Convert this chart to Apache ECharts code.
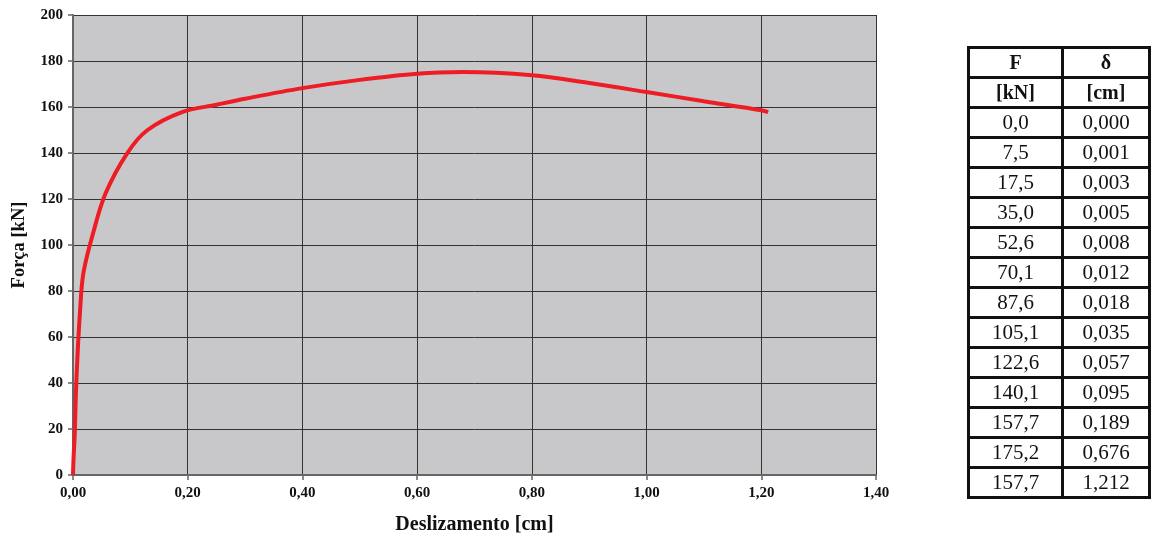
<!DOCTYPE html>
<html><head><meta charset="utf-8">
<script src="https://cdn.jsdelivr.net/npm/echarts@6/dist/echarts.min.js"></script>
<style>html,body{margin:0;padding:0;background:#fff}#c{width:1151px;height:537px}</style>
</head><body><div id="c"></div>
<script>
// Curve (x = slip in cm, y = force in kN)
var curveX = [0, 0.001, 0.003, 0.005, 0.008, 0.012, 0.018, 0.035, 0.057, 0.095, 0.13, 0.189, 0.25, 0.30, 0.40, 0.50, 0.60, 0.68, 0.80, 0.90, 1.00, 1.10, 1.20, 1.212];
var curveF = [0, 7.5, 17.5, 35.0, 52.6, 70.1, 87.6, 105.1, 122.6, 140.1, 150.0, 157.7, 161.0, 163.6, 168.2, 171.8, 174.5, 175.2, 173.8, 170.4, 166.5, 162.5, 158.6, 157.8];
// Table values
var tableHeader1 = ['F', 'δ'];
var tableHeader2 = ['[kN]', '[cm]'];
var tableF = ['0,0','7,5','17,5','35,0','52,6','70,1','87,6','105,1','122,6','140,1','157,7','175,2','157,7'];
var tableD = ['0,000','0,001','0,003','0,005','0,008','0,012','0,018','0,035','0,057','0,095','0,189','0,676','1,212'];

var serif = '"Liberation Serif","DejaVu Serif",serif';
var data = curveX.map(function(x, i){ return [x, curveF[i]]; });

// table graphics
var tx = 967, ty = 46, tw = 184, rowH = 30, bw = 3;
var colSplit = 1061;
var rows = [tableHeader1, tableHeader2];
for (var i = 0; i < tableF.length; i++) rows.push([tableF[i], tableD[i]]);
var th = rows.length * rowH + bw;
var g = [{type:'rect', shape:{x:tx, y:ty, width:tw, height:th}, style:{fill:'#111'}}];
var c1x = tx + bw, c1w = colSplit - c1x, c2x = colSplit + bw, c2w = tx + tw - bw - c2x;
rows.forEach(function(r, k){
  var y0 = ty + bw + k * rowH, h = rowH - bw;
  g.push({type:'rect', shape:{x:c1x, y:y0, width:c1w, height:h}, style:{fill:'#fff'}});
  g.push({type:'rect', shape:{x:c2x, y:y0, width:c2w, height:h}, style:{fill:'#fff'}});
  var bold = k < 2;
  var fs = bold ? 20 : 21;
  [[r[0], c1x + c1w/2], [r[1], c2x + c2w/2]].forEach(function(t){
    g.push({type:'text', x:t[1], y:y0 + h/2 + 1, style:{text:t[0], fill:'#111', font:(bold?'bold ':'') + fs + 'px ' + serif, textAlign:'center', textVerticalAlign:'middle'}});
  });
});

var chart = echarts.init(document.getElementById('c'));
chart.setOption({
  animation:false,
  backgroundColor:'#fff',
  grid:{left:73, right:275, top:15, bottom:62, show:true, backgroundColor:'#c8c8ca', borderWidth:0, outerBoundsMode:'none', containLabel:false},
  xAxis:{type:'value', min:0, max:1.4, interval:0.2,
    name:'Deslizamento [cm]', nameLocation:'middle', nameGap:40,
    nameTextStyle:{fontFamily:serif, fontWeight:'bold', fontSize:20, color:'#111'},
    axisLine:{show:true, onZero:false, lineStyle:{color:'#666', width:2}},
    axisTick:{show:true, length:5, lineStyle:{color:'#666', width:1.5}},
    axisLabel:{margin:11, fontFamily:serif, fontWeight:'bold', fontSize:15, color:'#111',
      formatter:function(v){ return v.toFixed(2).replace('.', ','); }},
    splitLine:{show:true, lineStyle:{color:'#333', width:1}}},
  yAxis:{type:'value', min:0, max:200, interval:20,
    name:'Força [kN]', nameLocation:'middle', nameGap:44, nameRotate:90,
    nameTextStyle:{fontFamily:serif, fontWeight:'bold', fontSize:18.5, color:'#111'},
    axisLine:{show:true, lineStyle:{color:'#666', width:2}},
    axisTick:{show:true, length:5, lineStyle:{color:'#666', width:1.5}},
    axisLabel:{margin:10, fontFamily:serif, fontWeight:'bold', fontSize:15, color:'#111'},
    splitLine:{show:true, lineStyle:{color:'#333', width:1}}},
  series:[{type:'line', data:data, smooth:0.35, showSymbol:false,
    lineStyle:{color:'#ee1c24', width:4}, z:5}],
  graphic:g
});
</script></body></html>
